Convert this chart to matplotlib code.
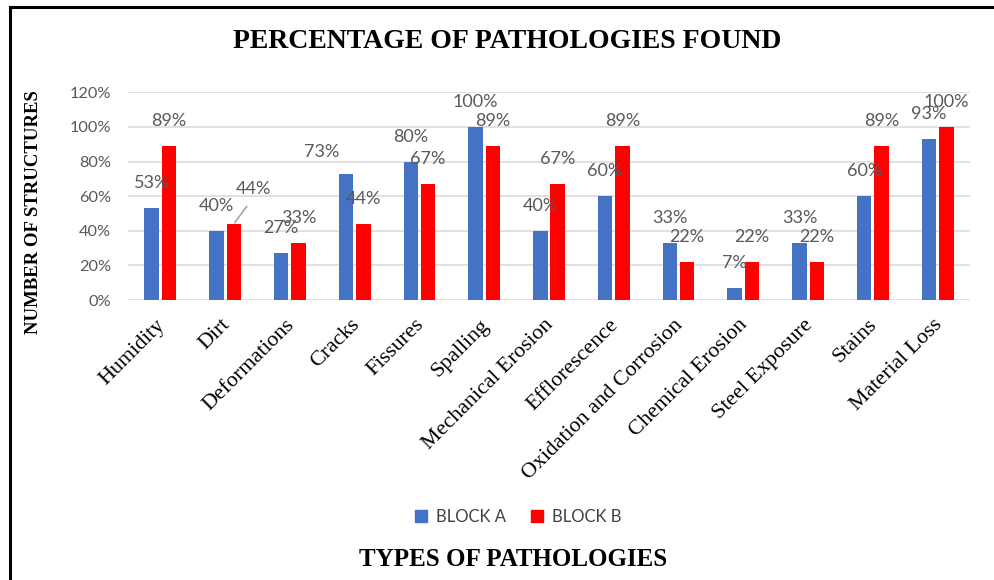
import matplotlib
matplotlib.use("Agg")
import matplotlib.pyplot as plt
import matplotlib.transforms as mtransforms
import numpy as np
from matplotlib.lines import Line2D

categories = ["Humidity", "Dirt", "Deformations", "Cracks", "Fissures", "Spalling",
              "Mechanical Erosion", "Efflorescence", "Oxidation and Corrosion",
              "Chemical Erosion", "Steel Exposure", "Stains", "Material Loss"]
block_a = [53, 40, 27, 73, 80, 100, 40, 60, 33, 7, 33, 60, 93]
block_b = [89, 44, 33, 44, 67, 89, 67, 89, 22, 22, 22, 89, 100]
series_names = ["BLOCK A", "BLOCK B"]
y_ticks = [0, 20, 40, 60, 80, 100, 120]

BLUE = "#4472C4"
RED = "#FF0000"
GRAY_TXT = "#595959"
PX = 72 / 100.0  # points per pixel at dpi 100

# label offsets in pixels (dx, dy) relative to bar top
default_off = (0, 25)
special_off = {("A", 3): (-24, 22), ("B", 1): (20, 35)}

fig = plt.figure(figsize=(9.95, 5.8), dpi=100)
ax = fig.add_axes([128 / 995, 1 - 300 / 580, (970 - 128) / 995, (300 - 92.3) / 580])

x = np.arange(len(categories))
w = 0.224
off = 0.134
bars_a = ax.bar(x - off, block_a, width=w, color=BLUE, zorder=3)
bars_b = ax.bar(x + off, block_b, width=w, color=RED, zorder=3)

ax.set_xlim(-0.5, len(categories) - 0.5)
ax.set_ylim(0, 120)
ax.set_yticks(y_ticks)
ax.set_yticklabels([f"{t}%" for t in y_ticks], family="Lato", fontsize=11.7, color=GRAY_TXT)
ax.tick_params(axis="y", length=0, pad=12)
ax.tick_params(axis="x", length=0, pad=4)
ax.set_xticks(x)
ax.set_xticklabels(categories, rotation=45, ha="right", rotation_mode="anchor",
                   family="Liberation Serif", fontsize=15.8, color="black")
shift = mtransforms.ScaledTranslation(-5 / 100, -10 / 100, fig.dpi_scale_trans)
for lab in ax.get_xticklabels():
    lab.set_va("top")
    lab.set_transform(lab.get_transform() + shift)
ax.grid(axis="y", color="#D9D9D9", lw=1.1, zorder=0)
for s in ax.spines.values():
    s.set_visible(False)

for key, bars, vals in (("A", bars_a, block_a), ("B", bars_b, block_b)):
    for i, (b, v) in enumerate(zip(bars, vals)):
        dx, dy = special_off.get((key, i), default_off)
        xc = b.get_x() + b.get_width() / 2
        kw = {}
        if (key, i) == ("B", 1):
            kw["arrowprops"] = dict(arrowstyle="-", color="#A6A6A6", lw=1.2,
                                    shrinkA=6, shrinkB=1, relpos=(0.5, 0.0))
        ax.annotate(f"{v}%", xy=(xc, v), xytext=(dx * PX, dy * PX),
                    textcoords="offset points", ha="center", va="center",
                    family="Lato", fontsize=13, color=GRAY_TXT, zorder=4, **kw)

# titles
fig.text(507.5 / 995, 1 - 41 / 580, "PERCENTAGE OF PATHOLOGIES FOUND", ha="center", va="center",
         family="Liberation Serif", fontweight="bold", fontsize=20)
fig.text(34 / 995, 1 - 212 / 580, "NUMBER OF STRUCTURES", ha="center", va="center", rotation=90,
         family="Liberation Serif", fontweight="bold", fontsize=13.5)
fig.text(513 / 995, 1 - 560 / 580, "TYPES OF PATHOLOGIES", ha="center", va="center",
         family="Liberation Serif", fontweight="bold", fontsize=18)

# legend
handles = [plt.Rectangle((0, 0), 1, 1, color=BLUE), plt.Rectangle((0, 0), 1, 1, color=RED)]
leg = fig.legend(handles, series_names, loc="center", bbox_to_anchor=(518 / 995, 1 - 517 / 580),
                 ncol=2, frameon=False, handlelength=0.75, handleheight=0.75, handletextpad=0.5,
                 columnspacing=1.5, prop={"family": "Lato", "size": 12})
for t in leg.get_texts():
    t.set_color("#404040")

# frame lines (top and left)
fig.add_artist(Line2D([10 / 995, 1.0], [1 - 7 / 580, 1 - 7 / 580], transform=fig.transFigure,
                      color="black", lw=2.2))
fig.add_artist(Line2D([10 / 995, 10 / 995], [0.0, 1 - 7 / 580], transform=fig.transFigure,
                      color="black", lw=2.2))

fig.savefig("out.png", dpi=100, facecolor="white")
